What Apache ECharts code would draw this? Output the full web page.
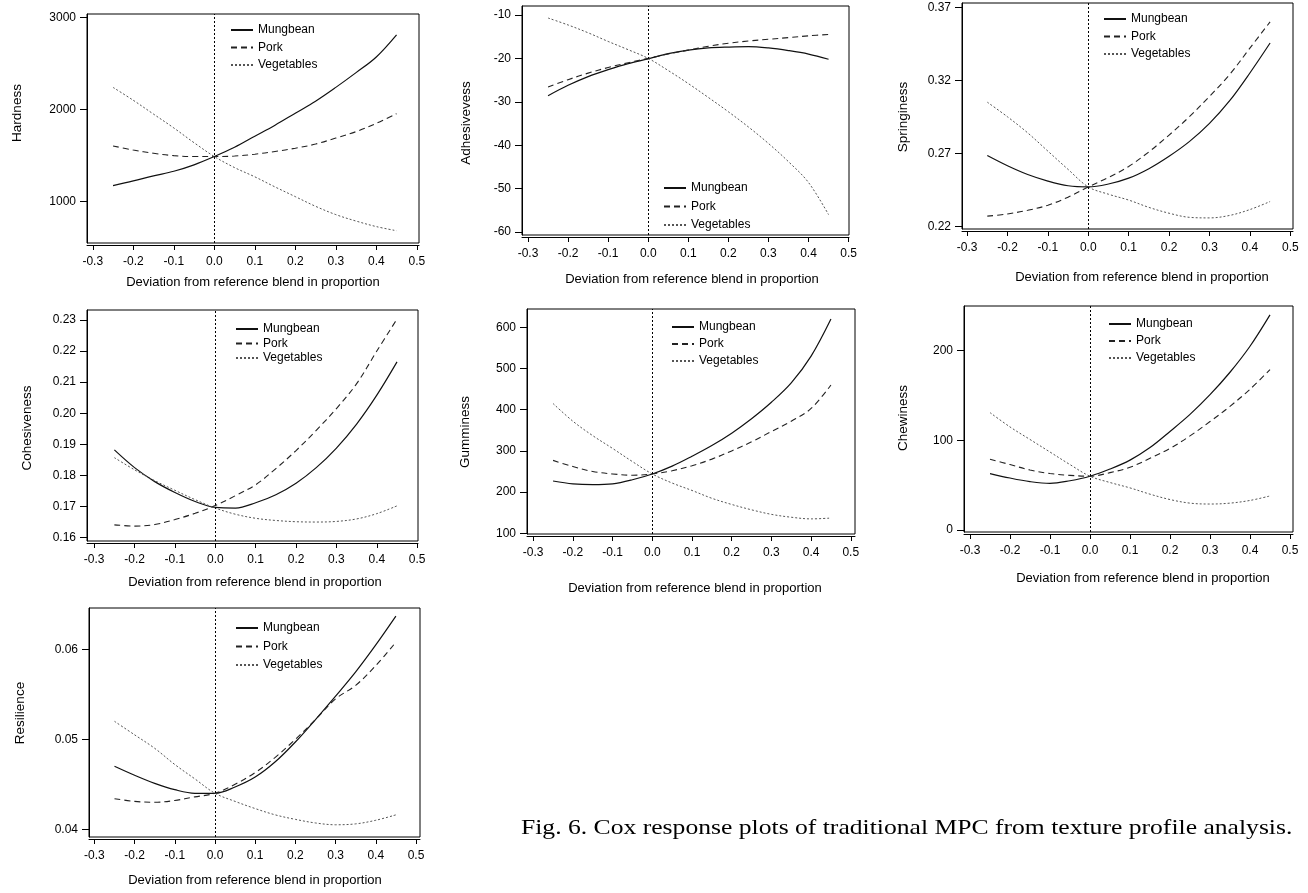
<!DOCTYPE html>
<html>
<head>
<meta charset="utf-8">
<script src="https://cdn.jsdelivr.net/npm/echarts@6/dist/echarts.min.js"></script>
<style>html,body{margin:0;padding:0;background:#fff}#chart{width:1308px;height:893px}</style>
</head>
<body>
<div id="chart"></div>
<script>
// ---------------- DATA ----------------
const seriesNames = ['Mungbean', 'Pork', 'Vegetables'];
const xs = [-0.25, -0.2, -0.15, -0.1, -0.05, 0, 0.05, 0.1, 0.15, 0.2, 0.25, 0.3, 0.35, 0.4, 0.45];
const xTicks = [-0.3, -0.2, -0.1, 0, 0.1, 0.2, 0.3, 0.4, 0.5];
const xTitle = 'Deviation from reference blend in proportion';
const caption = 'Fig. 6. Cox response plots of traditional MPC from texture profile analysis.';

const hardnessMungbean   = [1175, 1225, 1280, 1330, 1400, 1490, 1590, 1710, 1830, 1960, 2090, 2240, 2400, 2570, 2810];
const hardnessPork       = [1605, 1560, 1525, 1500, 1490, 1490, 1495, 1515, 1545, 1580, 1625, 1690, 1760, 1850, 1955];
const hardnessVegetables = [2240, 2100, 1950, 1800, 1640, 1490, 1370, 1270, 1160, 1055, 950, 860, 790, 730, 685];
const hardnessTicks = [1000, 2000, 3000];

const adhesMungbean   = [-28.6, -26.2, -24.2, -22.6, -21.2, -20.1, -18.9, -18.1, -17.6, -17.4, -17.3, -17.6, -18.2, -19.0, -20.2];
const adhesPork       = [-26.6, -24.9, -23.4, -22.1, -21.0, -20.0, -19.0, -18.1, -17.2, -16.5, -16.0, -15.6, -15.2, -14.8, -14.5];
const adhesVegetables = [-10.7, -12.3, -14.1, -16.1, -18.0, -20.0, -22.8, -25.8, -29.0, -32.3, -35.8, -39.6, -43.8, -48.6, -56.0];
const adhesTicks = [-60, -50, -40, -30, -20, -10];

const springMungbean   = [0.2685, 0.2615, 0.2555, 0.2510, 0.2478, 0.2470, 0.2490, 0.2530, 0.2595, 0.2680, 0.2780, 0.2905, 0.3060, 0.3250, 0.3455];
const springPork       = [0.2270, 0.2285, 0.2310, 0.2345, 0.2400, 0.2470, 0.2535, 0.2610, 0.2710, 0.2825, 0.2950, 0.3090, 0.3240, 0.3420, 0.3600];
const springVegetables = [0.3050, 0.2950, 0.2840, 0.2715, 0.2590, 0.2470, 0.2420, 0.2380, 0.2330, 0.2290, 0.2262, 0.2258, 0.2275, 0.2315, 0.2370];
const springTicks = [0.22, 0.27, 0.32, 0.37];

const cohesMungbean   = [0.1882, 0.1825, 0.1780, 0.1745, 0.1716, 0.1697, 0.1695, 0.1712, 0.1738, 0.1775, 0.1825, 0.1888, 0.1965, 0.2058, 0.2165];
const cohesPork       = [0.1641, 0.1637, 0.1642, 0.1658, 0.1678, 0.1703, 0.1735, 0.1770, 0.1822, 0.1880, 0.1945, 0.2015, 0.2095, 0.2200, 0.2303];
const cohesVegetables = [0.1857, 0.1818, 0.1783, 0.1752, 0.1722, 0.1695, 0.1675, 0.1662, 0.1655, 0.1651, 0.1650, 0.1652, 0.1660, 0.1677, 0.1702];
const cohesTicks = [0.16, 0.17, 0.18, 0.19, 0.20, 0.21, 0.22, 0.23];

const gumMungbean   = [227, 220, 218, 220, 230, 244, 263, 287, 313, 343, 378, 418, 465, 530, 620];
const gumPork       = [277, 262, 250, 244, 241, 244, 252, 264, 280, 300, 322, 347, 372, 403, 460];
const gumVegetables = [415, 372, 337, 306, 274, 244, 222, 204, 185, 170, 157, 146, 139, 135, 137];
const gumTicks = [100, 200, 300, 400, 500, 600];

const chewMungbean   = [63, 58, 54, 52, 55, 60, 68, 78, 92, 110, 129, 151, 176, 205, 240];
const chewPork       = [79, 73, 67, 63, 61, 60, 64, 70, 80, 91, 105, 121, 138, 157, 179];
const chewVegetables = [131, 115, 101, 87, 73, 60, 53, 47, 40, 34, 30, 29, 30, 33, 38];
const chewTicks = [0, 100, 200];

const resMungbean   = [0.0470, 0.0460, 0.0451, 0.0444, 0.0440, 0.0440, 0.0447, 0.0458, 0.0475, 0.0497, 0.0522, 0.0548, 0.0575, 0.0605, 0.0637];
const resPork       = [0.0434, 0.0431, 0.0430, 0.0432, 0.0436, 0.0440, 0.0450, 0.0463, 0.0480, 0.0500, 0.0522, 0.0545, 0.0560, 0.0582, 0.0608];
const resVegetables = [0.0520, 0.0505, 0.0490, 0.0472, 0.0456, 0.0440, 0.0431, 0.0423, 0.0416, 0.0411, 0.0407, 0.0405, 0.0406, 0.0410, 0.0416];
const resTicks = [0.04, 0.05, 0.06];

// ---------------- LAYOUT ----------------
const panels = [
  { yTitle: 'Hardness', series: [hardnessMungbean, hardnessPork, hardnessVegetables], yTicks: hardnessTicks, dec: 0,
    box: [87, 14, 419, 243], xr: [-0.3143, 0.5054], yr: [552, 3036],
    legend: [225, 19, 5.5], yT: [17, 113], xT: [253, 282] },
  { yTitle: 'Adhesivevess', series: [adhesMungbean, adhesPork, adhesVegetables], yTicks: adhesTicks, dec: 0,
    box: [522, 6, 849, 235], xr: [-0.315, 0.501], yr: [-60.69, -7.93],
    legend: [658, 177, 6.5], yT: [466, 123], xT: [692, 279] },
  { yTitle: 'Springiness', series: [springMungbean, springPork, springVegetables], yTicks: springTicks, dec: 2,
    box: [962, 3, 1293, 229], xr: [-0.3126, 0.5067], yr: [0.2182, 0.3729],
    legend: [1098, 8, 5.5], yT: [903, 117], xT: [1142, 277] },
  { yTitle: 'Cohesiveness', series: [cohesMungbean, cohesPork, cohesVegetables], yTicks: cohesTicks, dec: 2,
    box: [87, 310, 418, 541], xr: [-0.3178, 0.502], yr: [0.1589, 0.2332],
    legend: [230, 318, 2.5], yT: [27, 428], xT: [255, 582] },
  { yTitle: 'Gumminess', series: [gumMungbean, gumPork, gumVegetables], yTicks: gumTicks, dec: 0,
    box: [527, 309, 855, 534], xr: [-0.3156, 0.5106], yr: [98.3, 644.4],
    legend: [666, 316, 5], yT: [465, 432], xT: [695, 588] },
  { yTitle: 'Chewiness', series: [chewMungbean, chewPork, chewVegetables], yTicks: chewTicks, dec: 0,
    box: [964, 306, 1293, 532], xr: [-0.315, 0.5075], yr: [-2.2, 249.9],
    legend: [1103, 313, 5], yT: [903, 418], xT: [1143, 578] },
  { yTitle: 'Resilience', series: [resMungbean, resPork, resVegetables], yTicks: resTicks, dec: 2,
    box: [89, 608, 420, 837], xr: [-0.3134, 0.51], yr: [0.03914, 0.0646],
    legend: [230, 617, 6.5], yT: [20, 713], xT: [255, 880] }
];

const lineStyles = [
  { color: '#111', width: 1.2, type: 'solid' },
  { color: '#222', width: 1.1, type: [6, 4] },
  { color: '#555', width: 1, type: [2, 2] }
];

const FONT = 'Liberation Sans, Arial, sans-serif';
const grids = [], xAxes = [], yAxes = [], series = [], legends = [], graphics = [];

panels.forEach((p, k) => {
  const [l, t, r, b] = p.box;
  grids.push({ left: l, top: t, width: r - l, height: b - t, show: true, borderColor: '#000', borderWidth: 1, backgroundColor: 'transparent', containLabel: false });
  xAxes.push({
    type: 'value', gridIndex: k, min: p.xr[0], max: p.xr[1], offset: 2,
    axisLine: { show: true, onZero: false, lineStyle: { color: '#000', width: 1 } },
    axisTick: { show: true, inside: false, length: 5, customValues: xTicks, lineStyle: { color: '#000' } },
    axisLabel: { customValues: xTicks, margin: 11, fontSize: 12, fontFamily: FONT, color: '#000', formatter: v => v.toFixed(1) },
    splitLine: { show: false }
  });
  yAxes.push({
    type: 'value', gridIndex: k, min: p.yr[0], max: p.yr[1],
    axisLine: { show: true, onZero: false, lineStyle: { color: '#000', width: 1 } },
    axisTick: { show: true, inside: false, length: 7, customValues: p.yTicks, lineStyle: { color: '#000' } },
    axisLabel: { customValues: p.yTicks, margin: 11, fontSize: 12, fontFamily: FONT, color: '#000', formatter: v => v.toFixed(p.dec) },
    splitLine: { show: false }
  });
  p.series.forEach((arr, i) => {
    const s = {
      type: 'line', name: seriesNames[i], xAxisIndex: k, yAxisIndex: k,
      data: xs.map((x, j) => [x, arr[j]]),
      smooth: 0.35, symbol: 'none', showSymbol: false, silent: true,
      lineStyle: lineStyles[i], itemStyle: { color: lineStyles[i].color }
    };
    if (i === 0) {
      s.markLine = {
        silent: true, symbol: 'none', label: { show: false },
        lineStyle: { color: '#000', type: [2, 2], width: 1 },
        data: [{ xAxis: 0 }]
      };
    }
    series.push(s);
  });
  legends.push({
    data: seriesNames, orient: 'vertical', left: p.legend[0], top: p.legend[1],
    itemWidth: 22, itemHeight: 12, itemGap: p.legend[2], selectedMode: false,
    itemStyle: { opacity: 0 },
    textStyle: { fontSize: 12, fontFamily: FONT, color: '#000', padding: [0, 0, 0, 0] }
  });
  graphics.push({
    type: 'text', x: p.yT[0], y: p.yT[1], rotation: Math.PI / 2,
    style: { text: p.yTitle, fontSize: 13.5, fontFamily: FONT, fill: '#000', align: 'center', verticalAlign: 'middle' }
  });
  graphics.push({
    type: 'text', x: p.xT[0], y: p.xT[1],
    style: { text: xTitle, fontSize: 13, fontFamily: FONT, fill: '#000', align: 'center', verticalAlign: 'middle' }
  });
});

graphics.push({
  type: 'text', x: 521, y: 828, scaleX: 1.22,
  style: { text: caption, fontSize: 21, fontFamily: 'Liberation Serif, Times New Roman, serif', fill: '#000', align: 'left', verticalAlign: 'middle' }
});

const chart = echarts.init(document.getElementById('chart'), null, { renderer: 'canvas', width: 1308, height: 893 });
chart.setOption({
  backgroundColor: '#fff',
  animation: false,
  grid: grids, xAxis: xAxes, yAxis: yAxes, series: series, legend: legends, graphic: graphics
});
</script>
</body>
</html>
